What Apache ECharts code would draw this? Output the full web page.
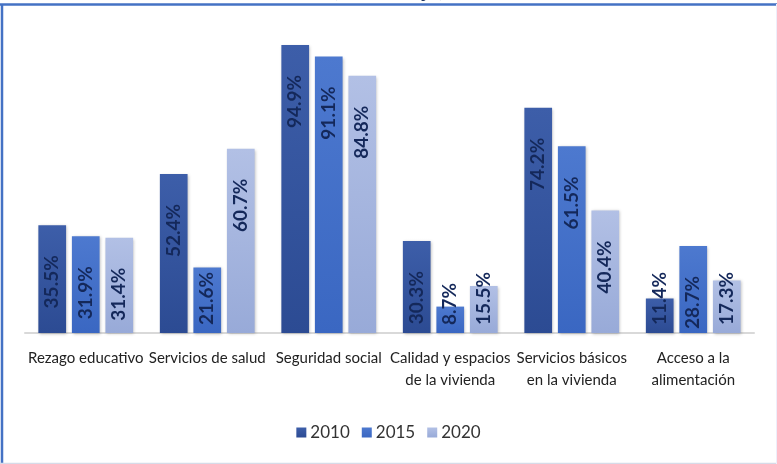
<!DOCTYPE html>
<html><head><meta charset="utf-8">
<script src="https://cdn.jsdelivr.net/npm/echarts@6/dist/echarts.min.js"></script>
<style>html,body{margin:0;padding:0;background:#fff}#c{width:777px;height:464px}</style>
</head><body><div id="c"></div>
<script>
const categories = ['Rezago educativo','Servicios de salud','Seguridad social','Calidad y espacios\nde la vivienda','Servicios básicos\nen la vivienda','Acceso a la\nalimentación'];
const seriesNames = ['2010','2015','2020'];
const v2010 = [35.5, 52.4, 94.9, 30.3, 74.2, 11.4];
const v2015 = [31.9, 21.6, 91.1, 8.7, 61.5, 28.7];
const v2020 = [31.4, 60.7, 84.8, 15.5, 40.4, 17.3];
const titleText = '(Porcentaje)';

const grads = [
  ['#3d5ea9','#2c4b93'],
  ['#4d79cf','#3a67c2'],
  ['#b2c0e5','#98aad8']
];
const fontFam = 'Lato, "Noto Sans", sans-serif';
const shortBar = 26; // bars below this value get their label pinned near the base
function mk(name, data, i){
  return {
    name, type:'bar',
    data: data.map(v => v < shortBar ? {value:v, label:{position:'insideBottom', distance:8, align:'left'}} : v),
    barGap:'21%', barCategoryGap:'22%',
    itemStyle:{
      color:new echarts.graphic.LinearGradient(0,0,0,1,[{offset:0,color:grads[i][0]},{offset:1,color:grads[i][1]}]),
      shadowColor:'rgba(0,0,0,0.25)', shadowBlur:3, shadowOffsetX:1, shadowOffsetY:1
    },
    label:{
      show:true, position:'insideTop', distance:30, rotate:90,
      align:'right', verticalAlign:'middle',
      formatter:p=>p.value.toFixed(1)+'%',
      color:'#14285a', fontFamily:fontFam, fontWeight:'bold', fontSize:19
    }
  };
}
const chart = echarts.init(document.getElementById('c'));
chart.setOption({
  animation:false,
  backgroundColor:'#fff',
  grid:{left:25, right:23, top:29.5, bottom:131, containLabel:false},
  legend:{
    data:seriesNames, bottom:18, left:'center', itemWidth:10, itemHeight:10, itemGap:12,
    icon:'rect',
    textStyle:{fontFamily:fontFam, fontSize:17, color:'#333', padding:[0,0,0,-1]}
  },
  xAxis:{
    type:'category', data:categories,
    axisLine:{lineStyle:{color:'#d9d9d9', width:2}}, axisTick:{show:false},
    axisLabel:{interval:0, fontFamily:fontFam, fontSize:15, color:'#222', margin:14, lineHeight:22}
  },
  yAxis:{type:'value', min:0, max:100, show:false, splitLine:{show:false}},
  series:[mk(seriesNames[0],v2010,0), mk(seriesNames[1],v2015,1), mk(seriesNames[2],v2020,2)],
  graphic:[
    {type:'line', shape:{x1:0,y1:4.5,x2:777,y2:4.5}, style:{stroke:'#4472c4', lineWidth:2.5}, z:10},
    {type:'line', shape:{x1:2,y1:4,x2:2,y2:464}, style:{stroke:'#4472c4', lineWidth:2.5}, z:10},
    {type:'line', shape:{x1:0,y1:463.5,x2:777,y2:463.5}, style:{stroke:'#d6dbe8', lineWidth:1.5}, z:10},
    {type:'line', shape:{x1:776.5,y1:4,x2:776.5,y2:464}, style:{stroke:'#eeeefa', lineWidth:1}, z:10},
    {type:'text', left:'center', top:-20, z:11, style:{text:titleText, font:'bold 21px '+fontFam, fill:'#1f3864'}}
  ]
});
</script></body></html>
